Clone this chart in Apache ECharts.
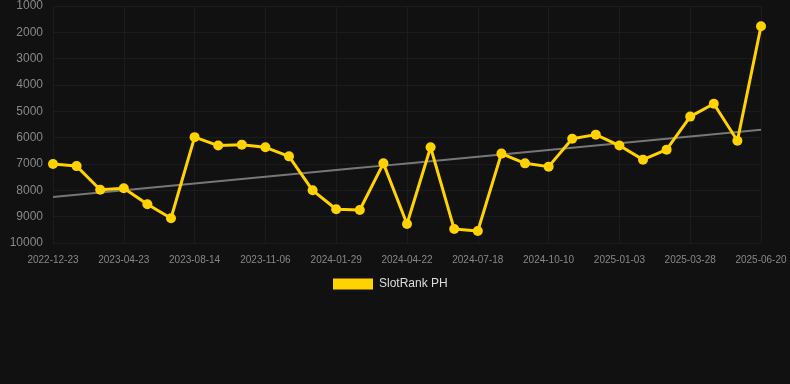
<!DOCTYPE html>
<html>
<head>
<meta charset="utf-8">
<script src="https://cdn.jsdelivr.net/npm/echarts@6/dist/echarts.min.js"></script>
<style>
html,body{margin:0;padding:0;background:#111111;}
#chart{width:790px;height:384px;}
</style>
</head>
<body>
<div id="chart"></div>
<script>
const dates = ['2022-12-23','2023-02-01','2023-03-13','2023-04-23','2023-06-01','2023-07-08','2023-08-14','2023-09-12','2023-10-09','2023-11-06','2023-12-04','2024-01-01','2024-01-29','2024-02-26','2024-03-25','2024-04-22','2024-05-21','2024-06-19','2024-07-18','2024-08-15','2024-09-12','2024-10-10','2024-11-07','2024-12-05','2025-01-03','2025-01-31','2025-02-28','2025-03-28','2025-04-24','2025-05-22','2025-06-20'];
const ranks = [7000,7080,7980,7920,8530,9060,5980,6300,6265,6365,6710,8000,8720,8745,6975,9280,6365,9470,9545,6605,6975,7100,6040,5885,6300,6835,6455,5200,4710,6115,1772];
const seriesName = 'SlotRank PH';

// linear regression trend from the data
const n = ranks.length;
let sx=0, sy=0, sxy=0, sxx=0;
for (let i=0;i<n;i++){ sx+=i; sy+=ranks[i]; sxy+=i*ranks[i]; sxx+=i*i; }
const slope = (n*sxy - sx*sy)/(n*sxx - sx*sx);
const intercept = (sy - slope*sx)/n;
const trend = ranks.map((_,i)=> intercept + slope*i);

const chart = echarts.init(document.getElementById('chart'));
chart.setOption({
  backgroundColor: '#111111',
  animation: false,
  textStyle: {fontFamily: 'Liberation Sans, Arial, sans-serif'},
  grid: {left: 53, right: 29, top: 6, bottom: 141, containLabel: false},
  legend: {
    data: [seriesName],
    top: 278,
    left: 328,
    padding: [0, 5],
    icon: 'rect',
    itemWidth: 40,
    itemHeight: 11,
    itemGap: 5,
    textStyle: {color: '#dddddd', fontSize: 12, padding: [0, 0, 0, 1]}
  },
  xAxis: {
    type: 'category',
    data: dates,
    boundaryGap: false,
    axisLine: {show: false},
    axisTick: {show: false},
    axisLabel: {color: '#888888', fontSize: 10, interval: 2, margin: 12},
    splitLine: {show: true, interval: 2, lineStyle: {color: '#1c1c1c', width: 1}}
  },
  yAxis: {
    type: 'value',
    inverse: true,
    min: 1000,
    max: 10000,
    interval: 1000,
    axisLine: {show: false},
    axisTick: {show: false},
    axisLabel: {color: '#888888', fontSize: 12, margin: 10, formatter: v => String(v)},
    splitLine: {lineStyle: {color: '#1c1c1c', width: 1}}
  },
  series: [
    {
      name: seriesName,
      type: 'line',
      data: ranks,
      color: '#ffd200',
      lineStyle: {width: 3, color: '#ffd200'},
      symbol: 'circle',
      symbolSize: 10,
      itemStyle: {color: '#ffd200'},
      z: 3
    },
    {
      name: 'trend',
      type: 'line',
      data: trend,
      symbol: 'none',
      lineStyle: {width: 2, color: '#777777'},
      z: 2,
      silent: true
    }
  ]
});
</script>
</body>
</html>
